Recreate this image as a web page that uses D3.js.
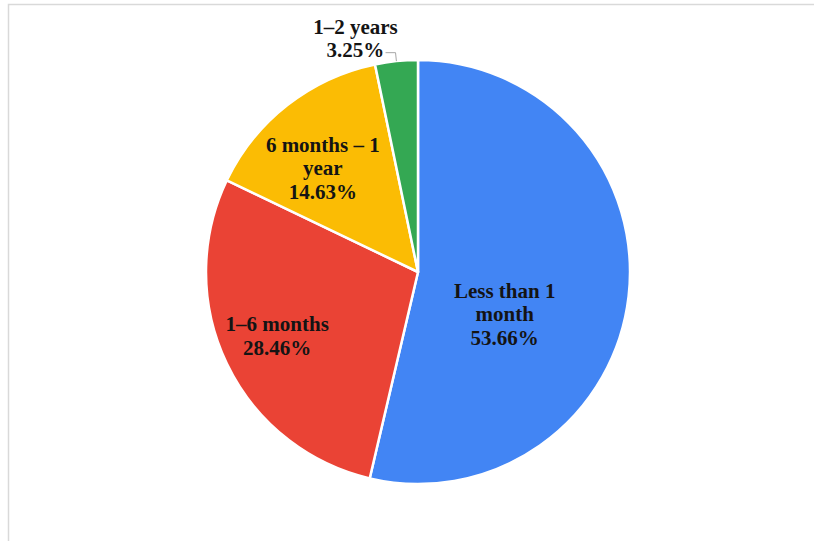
<!DOCTYPE html>
<html>
<head>
<meta charset="utf-8">
<script src="https://cdn.jsdelivr.net/npm/d3@7"></script>
<style>
  html, body { margin: 0; padding: 0; background: #fff; }
  svg { display: block; }
</style>
</head>
<body>
<div id="chart"></div>
<script>
// data
const categories = ["Less than 1 month", "1–6 months", "6 months – 1 year", "1–2 years"];
const shares = [53.66, 28.46, 14.63, 3.25];
const labelLines = [
    ["Less than 1", "month"],
    ["1–6 months"],
    ["6 months – 1", "year"],
    ["1–2 years"]
];
const colors = ["#4285F4", "#EA4335", "#FBBC04", "#34A853"];

// label placement (Excel "best fit"): polar offset, radius fraction + angle in degrees
const labelPlacement = {
    "Less than 1 month": { rf: 0.455, deg: 116 },
    "1–6 months": { rf: 0.73, deg: 245.5 },
    "6 months – 1 year": { rf: 0.665, deg: 317.5 },
    "1–2 years": { rf: 1.14, deg: 345, outside: true }
};

const W = 814, H = 541;
const cx = 418, cy = 272, R = 212;
const lineH = 23.5;

const svg = d3.select("#chart").append("svg")
    .attr("width", W)
    .attr("height", H);

// chart frame (only top and left edges visible)
svg.append("rect")
    .attr("x", 8.5).attr("y", 4.5)
    .attr("width", W + 20).attr("height", H + 20)
    .attr("fill", "none")
    .attr("stroke", "#d9d9d9")
    .attr("stroke-width", 1.5);

const data = categories.map((c, i) => ({ cat: c, value: shares[i], lines: labelLines[i], color: colors[i] }));

const pie = d3.pie().sort(null).value(d => d.value).startAngle(0).endAngle(2 * Math.PI);
const arc = d3.arc().innerRadius(0).outerRadius(R);
const arcs = pie(data);

const g = svg.append("g").attr("transform", `translate(${cx},${cy})`);

g.selectAll("path.slice")
    .data(arcs)
    .join("path")
    .attr("class", "slice")
    .attr("d", arc)
    .attr("fill", d => d.data.color)
    .attr("stroke", "#fff")
    .attr("stroke-width", 2.5)
    .attr("stroke-linejoin", "round");

const polar = (rf, deg) => {
    const a = deg * Math.PI / 180;
    return [R * rf * Math.sin(a), -R * rf * Math.cos(a)];
};

// leader line for the outside label
arcs.filter(d => labelPlacement[d.data.cat].outside).forEach(d => {
    const mid = (d.startAngle + d.endAngle) / 2 * 180 / Math.PI;
    const p0 = polar(1.0, mid);
    const p1 = polar(1.04, mid);
    g.append("path")
        .attr("d", d3.line()([p0, p1, [p1[0] - 10, p1[1]]]))
        .attr("fill", "none")
        .attr("stroke", "#a6a6a6")
        .attr("stroke-width", 1);
});

// labels
arcs.forEach(d => {
    const pl = labelPlacement[d.data.cat];
    const [x, y] = polar(pl.rf, pl.deg);
    const lines = d.data.lines.concat([d.data.value.toFixed(2) + "%"]);
    const t = g.append("text")
        .attr("text-anchor", "middle")
        .attr("font-family", "'Liberation Serif', 'Times New Roman', serif")
        .attr("font-weight", "bold")
        .attr("font-size", 21)
        .attr("fill", "#141414");
    const y0 = y - (lines.length - 1) * lineH / 2 + 7;
    lines.forEach((ln, i) => {
        t.append("tspan")
            .attr("x", x)
            .attr("y", y0 + i * lineH)
            .text(ln);
    });
});
</script>
</body>
</html>
